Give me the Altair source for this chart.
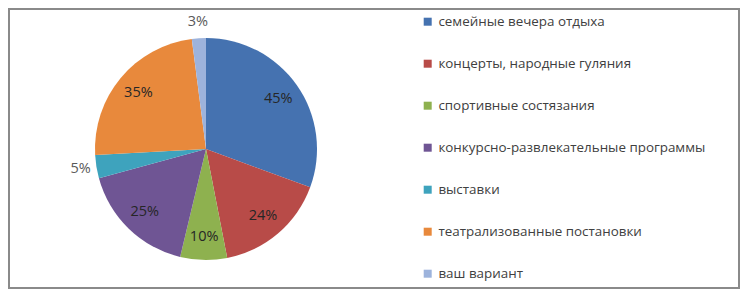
import altair as alt
import pandas as pd

categories = [
    "семейные вечера отдыха",
    "концерты, народные гуляния",
    "спортивные состязания",
    "конкурсно-развлекательные программы",
    "выставки",
    "театрализованные постановки",
    "ваш вариант",
]
values = [45, 24, 10, 25, 5, 35, 3]
colors = ["#4572B0", "#B84B48", "#8EB14F", "#6F5594", "#3EA3BD", "#E8893C", "#9DB3DC"]

df = pd.DataFrame({"category": categories, "value": values, "idx": list(range(len(values)))})

W, H = 732, 281
CX, CY = 198, 141

base = alt.Chart(df).encode(
    theta=alt.Theta("value:Q", stack=True),
    order=alt.Order("idx:Q", sort="ascending"),
    x=alt.value(CX),
    y=alt.value(CY),
)

pie = base.mark_arc(outerRadius=111).encode(
    color=alt.Color(
        "category:N",
        scale=alt.Scale(domain=categories, range=colors),
        sort=categories,
        legend=alt.Legend(
            title=None,
            orient="none",
            legendX=413,
            legendY=7,
            symbolType="square",
            symbolSize=64,
            symbolStrokeWidth=0,
            labelFont="Open Sans",
            labelFontSize=13.4,
            labelColor="#404040",
            labelOffset=4,
            labelLimit=400,
            rowPadding=27,
            padding=0,
        ),
    )
)

text_in = base.transform_calculate(
    lab="datum.value < 6 ? '' : datum.value + '%'"
).mark_text(font="Open Sans", fontSize=14.5, radius=88, color="#262626").encode(text="lab:N")

text_out = base.transform_calculate(
    lab="datum.value < 6 ? datum.value + '%' : ''"
).mark_text(font="Open Sans", fontSize=14.5, radius=127, color="#595959").encode(text="lab:N")

frame = alt.Chart(pd.DataFrame({"a": [0]})).mark_rect(
    fill=None, stroke="#8a8a8a", strokeWidth=2
).encode(x=alt.value(1), x2=alt.value(W - 1), y=alt.value(1), y2=alt.value(H - 1))

chart = alt.layer(frame, pie, text_in, text_out).properties(
    width=W,
    height=H,
    autosize=alt.AutoSizeParams(type="none"),
    padding=0,
).configure_view(stroke=None)

chart.save("out.html", embed_options={"renderer": "svg", "actions": False})
